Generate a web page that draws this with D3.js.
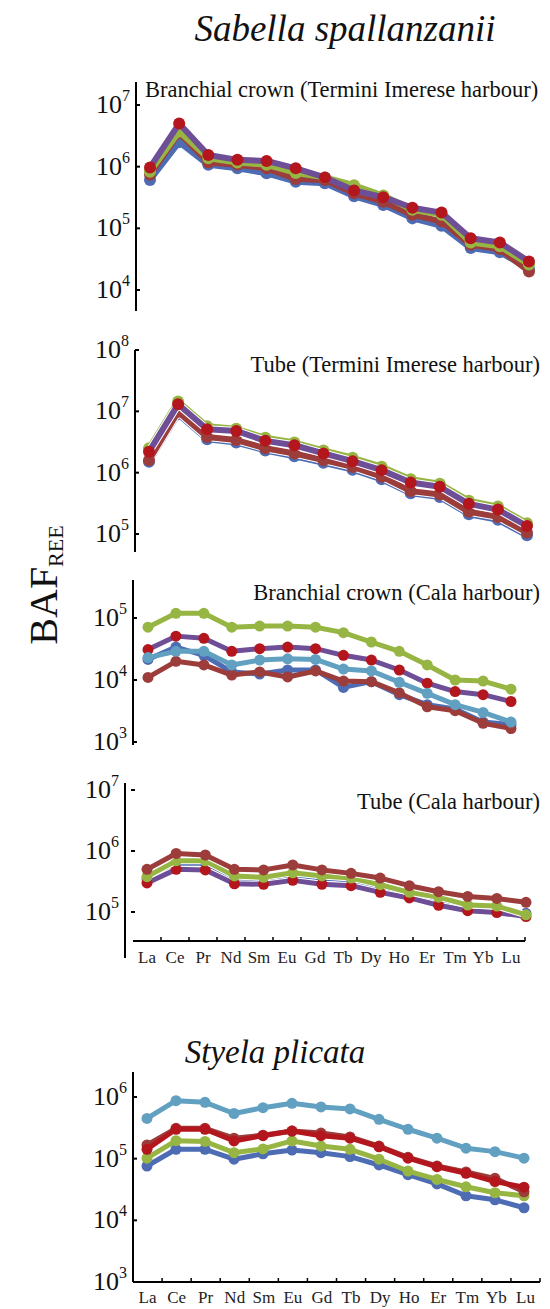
<!DOCTYPE html>
<html lang="en">
<head>
<meta charset="UTF-8">
<title>BAF REE - Sabella spallanzanii / Styela plicata</title>
<script src="https://d3js.org/d3.v7.min.js"></script>
<style>
  body { margin: 0; background: #fff; }
  svg { display: block; font-family: "Liberation Serif", "Times New Roman", serif; }
</style>
</head>
<body>
<svg id="chart" width="550" height="1309"></svg>
<script>
// ---- data ----
const elements = ["La","Ce","Pr","Nd","Sm","Eu","Gd","Tb","Dy","Ho","Er","Tm","Yb","Lu"];

// Sabella - branchial crown, Termini Imerese
const crownTI_blue    = [6.1e5, 2.5e6, 1.07e6, 9.4e5, 7.8e5, 5.7e5, 5.4e5, 3.3e5, 2.4e5, 1.45e5, 1.1e5, 4.8e4, 4.1e4, 2.2e4];
const crownTI_darkred = [7.4e5, 3.5e6, 1.17e6, 1.07e6, 9.4e5, 6.3e5, 6.1e5, 3.7e5, 2.7e5, 1.66e5, 1.3e5, 5.4e4, 4.6e4, 2.0e4];
const crownTI_green   = [8.3e5, 3.7e6, 1.37e6, 1.17e6, 1.07e6, 7.9e5, 6.7e5, 5.0e5, 3.4e5, 2.0e5, 1.66e5, 5.9e4, 5.1e4, 2.6e4];
const crownTI_red     = [9.7e5, 5.0e6, 1.55e6, 1.29e6, 1.24e6, 9.4e5, 6.7e5, 4.1e5, 3.2e5, 2.16e5, 1.8e5, 6.9e4, 5.9e4, 2.9e4];

// Sabella - tube, Termini Imerese
const tubeTI_blue    = [1.5e6, 9.0e6, 3.5e6, 3.1e6, 2.3e6, 1.85e6, 1.45e6, 1.12e6, 7.8e5, 4.6e5, 4.0e5, 2.1e5, 1.7e5, 9.5e4];
const tubeTI_darkred = [1.6e6, 9.8e6, 3.8e6, 3.4e6, 2.5e6, 2.05e6, 1.6e6, 1.24e6, 8.6e5, 5.0e5, 4.4e5, 2.3e5, 1.9e5, 1.05e5];
const tubeTI_green   = [2.5e6, 1.45e7, 5.7e6, 5.2e6, 3.7e6, 3.1e6, 2.3e6, 1.75e6, 1.25e6, 7.8e5, 6.6e5, 3.5e5, 2.8e5, 1.5e5];
const tubeTI_red     = [2.2e6, 1.3e7, 5.1e6, 4.8e6, 3.3e6, 2.8e6, 2.06e6, 1.54e6, 1.1e6, 6.9e5, 5.9e5, 3.1e5, 2.5e5, 1.35e5];

// Sabella - branchial crown, Cala
const crownCala_blue      = [2.15e4, 3.4e4, 2.5e4, 1.35e4, 1.25e4, 1.45e4, 1.45e4, 7.6e3, 9.4e3, 5.8e3, 4.0e3, 3.4e3, 2.1e3, 1.9e3];
const crownCala_darkred   = [1.1e4, 2.0e4, 1.75e4, 1.2e4, 1.35e4, 1.12e4, 1.4e4, 9.6e3, 9.4e3, 6.2e3, 3.7e3, 3.2e3, 2.0e3, 1.65e3];
const crownCala_green     = [7.1e4, 1.19e5, 1.19e5, 7.1e4, 7.4e4, 7.4e4, 7.1e4, 5.8e4, 4.1e4, 2.9e4, 1.75e4, 1.0e4, 9.6e3, 7.1e3];
const crownCala_red       = [3.1e4, 5.1e4, 4.7e4, 2.9e4, 3.2e4, 3.4e4, 3.2e4, 2.5e4, 2.1e4, 1.45e4, 8.9e3, 6.5e3, 5.8e3, 4.5e3];
const crownCala_lightblue = [2.3e4, 2.9e4, 2.9e4, 1.75e4, 2.1e4, 2.2e4, 2.15e4, 1.5e4, 1.4e4, 9.2e3, 6.1e3, 4.0e3, 3.0e3, 2.1e3];

// Sabella - tube, Cala
const tubeCala_blue    = [3.5e5, 6.3e5, 6.3e5, 3.6e5, 3.4e5, 4.0e5, 3.6e5, 3.3e5, 2.55e5, 1.95e5, 1.6e5, 1.2e5, 1.15e5, 9.5e4];
const tubeCala_red     = [3.0e5, 5.0e5, 4.9e5, 2.9e5, 2.85e5, 3.3e5, 2.85e5, 2.7e5, 2.1e5, 1.7e5, 1.29e5, 1.05e5, 9.8e4, 8.4e4];
const tubeCala_green   = [3.8e5, 6.9e5, 6.9e5, 3.9e5, 3.7e5, 4.4e5, 3.9e5, 3.6e5, 2.8e5, 2.1e5, 1.75e5, 1.3e5, 1.25e5, 9.0e4];
const tubeCala_darkred = [5.0e5, 9.1e5, 8.6e5, 5.0e5, 4.9e5, 5.9e5, 4.9e5, 4.3e5, 3.6e5, 2.7e5, 2.15e5, 1.8e5, 1.67e5, 1.44e5];

// Styela plicata
const styela_blue      = [7.6e4, 1.42e5, 1.42e5, 9.8e4, 1.2e5, 1.38e5, 1.25e5, 1.08e5, 7.9e4, 5.5e4, 3.9e4, 2.5e4, 2.15e4, 1.6e4];
const styela_green     = [1.02e5, 1.96e5, 1.9e5, 1.25e5, 1.44e5, 1.94e5, 1.6e5, 1.42e5, 9.8e4, 6.3e4, 4.6e4, 3.5e4, 2.8e4, 2.5e4];
const styela_darkred   = [1.67e5, 3.1e5, 3.1e5, 2.15e5, 2.4e5, 2.8e5, 2.6e5, 2.25e5, 1.6e5, 1.05e5, 7.6e4, 6.1e4, 4.8e4, 2.9e4];
const styela_red       = [1.42e5, 3.0e5, 3.0e5, 1.94e5, 2.36e5, 2.8e5, 2.36e5, 2.15e5, 1.56e5, 1.02e5, 7.4e4, 5.8e4, 4.25e4, 3.45e4];
const styela_lightblue = [4.5e5, 8.7e5, 8.2e5, 5.4e5, 6.7e5, 7.9e5, 6.9e5, 6.4e5, 4.35e5, 3.0e5, 2.15e5, 1.48e5, 1.3e5, 1.02e5];

// ---- styles ----
const C = {
  blue: "#4d6cb4",
  darkred: "#9c3d3b",
  green: "#97b543",
  purple: "#6e4e96",
  red: "#b3171d",
  lightblue: "#62a0c1"
};

const svg = d3.select("#chart");

// panel layout: y axis position, log domain, pixel range, data x range
const panels = [
  { title: "Branchial crown (Termini Imerese harbour)", titleY: 97, titleAnchor: "start", titleX: 145,
    axisX: 136, axisTop: 82, axisBottom: 311, dom: [1e4, 1e7], rng: [290, 105], px: [150, 529], halo: false, lw: 6, r: 6,
    series: [
      { v: crownTI_blue, line: C.blue, dot: C.blue },
      { v: crownTI_darkred, line: C.darkred, dot: C.darkred },
      { v: crownTI_green, line: C.green, dot: C.green },
      { v: crownTI_red, line: C.purple, dot: C.red }
    ] },
  { title: "Tube (Termini Imerese harbour)", titleY: 372, titleAnchor: "end", titleX: 540,
    axisX: 135, axisTop: 350, axisBottom: 552, dom: [1e5, 1e8], rng: [534, 350], px: [149, 527], halo: true, lw: 6, r: 6,
    series: [
      { v: tubeTI_blue, line: C.blue, dot: C.blue },
      { v: tubeTI_darkred, line: C.darkred, dot: C.darkred },
      { v: tubeTI_green, line: C.green, dot: C.green },
      { v: tubeTI_red, line: C.purple, dot: C.red }
    ] },
  { title: "Branchial crown (Cala harbour)", titleY: 600, titleAnchor: "end", titleX: 540,
    axisX: 133, axisTop: 580, axisBottom: 745, dom: [1e3, 1e5], rng: [742, 618], px: [148, 511], halo: false, lw: 5, r: 5.5,
    series: [
      { v: crownCala_blue, line: C.blue, dot: C.blue },
      { v: crownCala_darkred, line: C.darkred, dot: C.darkred },
      { v: crownCala_green, line: C.green, dot: C.green },
      { v: crownCala_red, line: C.purple, dot: C.red },
      { v: crownCala_lightblue, line: C.lightblue, dot: C.lightblue }
    ] },
  { title: "Tube (Cala harbour)", titleY: 809, titleAnchor: "end", titleX: 540,
    axisX: 125, axisTop: 783, axisBottom: 958, dom: [1e5, 1e7], rng: [912, 790], px: [147, 526], halo: true, lw: 5, r: 5.5,
    tickX: 131, xAxis: { y: 941, x0: 133, x1: 525, labelY: 963 },
    series: [
      { v: tubeCala_blue, line: C.blue, dot: C.blue },
      { v: tubeCala_red, line: C.purple, dot: C.red },
      { v: tubeCala_green, line: C.green, dot: C.green },
      { v: tubeCala_darkred, line: C.darkred, dot: C.darkred }
    ] },
  { title: null,
    axisX: 133, axisTop: 1072, axisBottom: 1282, dom: [1e3, 1e6], rng: [1282, 1097], px: [147, 524], halo: false, lw: 5, r: 5.5,
    xAxis: { y: 1282, x0: 133, x1: 540, labelY: 1303 },
    series: [
      { v: styela_blue, line: C.blue, dot: C.blue },
      { v: styela_green, line: C.green, dot: C.green },
      { v: styela_darkred, line: C.darkred, dot: C.darkred },
      { v: styela_red, line: C.red, dot: C.red },
      { v: styela_lightblue, line: C.lightblue, dot: C.lightblue }
    ] }
];

panels.forEach(p => {
  const g = svg.append("g");
  const y = d3.scaleLog().domain(p.dom).range(p.rng);
  const x = d3.scalePoint().domain(elements).range(p.px);

  // y axis line + inward ticks
  g.append("line")
    .attr("x1", p.axisX).attr("x2", p.axisX)
    .attr("y1", p.axisTop).attr("y2", p.axisBottom)
    .attr("stroke", "#000").attr("stroke-width", 2);

  const decades = d3.range(Math.log10(p.dom[0]), Math.log10(p.dom[1]) + 1);
  const tx = p.tickX || p.axisX;
  decades.forEach(e => {
    const ty = y(Math.pow(10, e));
    g.append("line")
      .attr("x1", tx).attr("x2", tx + 4)
      .attr("y1", ty).attr("y2", ty)
      .attr("stroke", "#000").attr("stroke-width", 2);
    const t = g.append("text")
      .attr("x", p.axisX - 6).attr("y", ty + 8)
      .attr("text-anchor", "end")
      .attr("font-size", 26)
      .attr("fill", "#111");
    t.append("tspan").text("10");
    t.append("tspan").attr("font-size", 16).attr("dy", -12).text(e);
  });

  // x axis (categories)
  if (p.xAxis) {
    const xb = d3.scaleBand().domain(elements).range([p.xAxis.x0, p.xAxis.x1]);
    g.append("line")
      .attr("x1", p.xAxis.x0).attr("x2", p.xAxis.x1)
      .attr("y1", p.xAxis.y).attr("y2", p.xAxis.y)
      .attr("stroke", "#000").attr("stroke-width", 2);
    elements.slice(1).forEach(el => {
      g.append("line")
        .attr("x1", xb(el)).attr("x2", xb(el))
        .attr("y1", p.xAxis.y).attr("y2", p.xAxis.y - 4)
        .attr("stroke", "#000").attr("stroke-width", 1.5);
    });
    g.append("line")
      .attr("x1", p.xAxis.x1).attr("x2", p.xAxis.x1)
      .attr("y1", p.xAxis.y).attr("y2", p.xAxis.y - 4)
      .attr("stroke", "#000").attr("stroke-width", 1.5);
    g.selectAll(".xl").data(elements).enter().append("text")
      .attr("x", d => xb(d) + xb.bandwidth() / 2)
      .attr("y", p.xAxis.labelY)
      .attr("text-anchor", "middle")
      .attr("font-size", 17)
      .attr("fill", "#222")
      .text(d => d);
  }

  // panel caption
  if (p.title) {
    g.append("text")
      .attr("x", p.titleX).attr("y", p.titleY)
      .attr("text-anchor", p.titleAnchor)
      .attr("font-size", 22.5)
      .attr("fill", "#111")
      .text(p.title);
  }

  const line = d3.line().x((d, i) => x(elements[i])).y(d => y(d));

  p.series.forEach(s => {
    if (p.halo) {
      g.append("path").attr("d", line(s.v))
        .attr("fill", "none").attr("stroke", "#fff")
        .attr("stroke-width", p.lw + 2).attr("stroke-linejoin", "round");
    }
    g.append("path").attr("d", line(s.v))
      .attr("fill", "none").attr("stroke", s.line)
      .attr("stroke-width", p.lw).attr("stroke-linejoin", "round");
    g.selectAll(null).data(s.v).enter().append("circle")
      .attr("cx", (d, i) => x(elements[i]))
      .attr("cy", d => y(d))
      .attr("r", p.r)
      .attr("fill", s.dot);
  });
});

// species titles
svg.append("text")
  .attr("x", 345).attr("y", 41)
  .attr("text-anchor", "middle")
  .attr("font-size", 37).attr("font-style", "italic")
  .attr("fill", "#111")
  .text("Sabella spallanzanii");

svg.append("text")
  .attr("x", 275).attr("y", 1063)
  .attr("text-anchor", "middle")
  .attr("font-size", 33).attr("font-style", "italic")
  .attr("fill", "#111")
  .text("Styela plicata");

// y label BAF_REE
const yl = svg.append("text")
  .attr("transform", "translate(57,585) rotate(-90)")
  .attr("text-anchor", "middle")
  .attr("font-size", 40)
  .attr("fill", "#111");
yl.append("tspan").text("BAF");
yl.append("tspan").attr("font-size", 22).attr("dy", 6).text("REE");
</script>
</body>
</html>
